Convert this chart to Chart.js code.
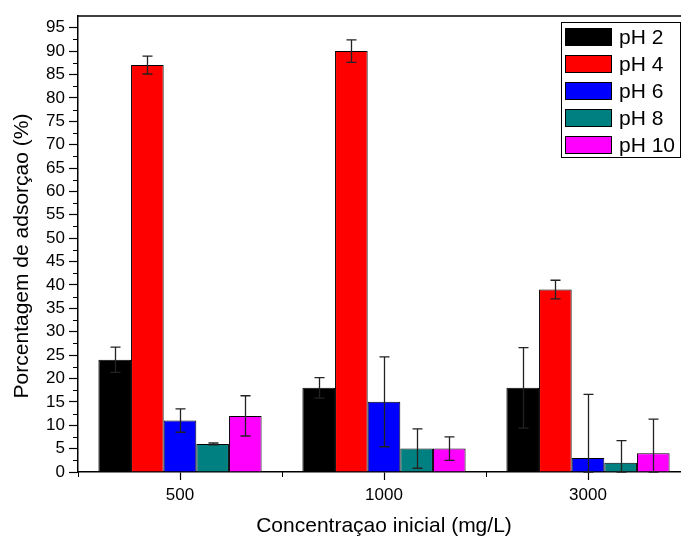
<!DOCTYPE html>
<html>
<head>
<meta charset="utf-8">
<script src="https://cdn.jsdelivr.net/npm/chart.js@4"></script>
<style>
  html, body { margin: 0; padding: 0; background: #fff; overflow: hidden; }
  canvas { display: block; }
</style>
</head>
<body>
<canvas id="chart-ads" width="700" height="539"></canvas>
<script>
const FONT = '"Liberation Sans", Arial, sans-serif';

const categories = ['500', '1000', '3000'];
const seriesLabels = ['pH 2', 'pH 4', 'pH 6', 'pH 8', 'pH 10'];
const seriesColors = ['#000000', '#ff0000', '#0000ff', '#008080', '#ff00ff'];

const ph2 = [24, 18, 18];
const ph4 = [87, 90, 39];
const ph6 = [11, 15, 3];
const ph8 = [6, 5, 2];
const ph10 = [12, 5, 4];

const ph2Err = [2.7, 2.2, 8.6];
const ph4Err = [1.9, 2.4, 2.0];
const ph6Err = [2.5, 9.6, 13.6];
const ph8Err = [0.2, 4.2, 4.7];
const ph10Err = [4.3, 2.5, 7.3];

const yTicks = [0, 5, 10, 15, 20, 25, 30, 35, 40, 45, 50, 55, 60, 65, 70, 75, 80, 85, 90, 95];

const values = [ph2, ph4, ph6, ph8, ph10];
const errors = [ph2Err, ph4Err, ph6Err, ph8Err, ph10Err];

// error bars, frame, minor ticks, axis titles and the boxed legend
const extras = {
    id: 'extras',
    afterDatasetsDraw(chart) {
        const c = chart.ctx;
        const y = chart.scales.y;
        c.save();
        c.strokeStyle = '#222';
        c.lineWidth = 1.3;
        chart.data.datasets.forEach((ds, i) => {
            const meta = chart.getDatasetMeta(i);
            meta.data.forEach((bar, j) => {
                const v = ds.data[j], e = errors[i][j];
                const yt = y.getPixelForValue(v + e);
                const yb = y.getPixelForValue(Math.max(0, v - e));
                const x = Math.round(bar.x) + 0.5;
                c.beginPath();
                c.moveTo(x, yt); c.lineTo(x, yb);
                c.moveTo(x - 5, yt); c.lineTo(x + 5, yt);
                c.moveTo(x - 5, yb); c.lineTo(x + 5, yb);
                c.stroke();
            });
        });
        c.restore();
    },
    afterDraw(chart) {
        const c = chart.ctx;
        const a = chart.chartArea;
        const x = chart.scales.x, y = chart.scales.y;
        c.save();
        c.strokeStyle = '#000';
        c.lineWidth = 1.5;
        c.beginPath();
        c.moveTo(a.left, a.top); c.lineTo(chart.width, a.top);
        c.stroke();

        c.lineWidth = 1;
        c.beginPath();
        for (let v = 2.5; v < 97; v += 5) {
            const py = Math.round(y.getPixelForValue(v)) + 0.5;
            c.moveTo(a.left - 5, py); c.lineTo(a.left, py);
        }
        const step = x.getPixelForValue(1) - x.getPixelForValue(0);
        for (let i = 0; i <= categories.length; i++) {
            const px = Math.round(x.getPixelForValue(i) - step / 2) + 0.5;
            c.moveTo(px, a.bottom); c.lineTo(px, a.bottom + 5);
        }
        c.stroke();

        c.fillStyle = '#000';
        c.font = '21px ' + FONT;
        c.textAlign = 'center';
        c.textBaseline = 'middle';
        c.fillText('Concentraçao inicial (mg/L)', (a.left + a.right) / 2, 526);
        c.translate(22, 256);
        c.rotate(-Math.PI / 2);
        c.fillText('Porcentagem de adsorçao (%)', 0, 0);
        c.restore();

        c.save();
        c.fillStyle = '#fff';
        c.fillRect(561, 22, 119, 135);
        c.strokeStyle = '#000';
        c.lineWidth = 1;
        c.strokeRect(561.5, 22.5, 119, 135);
        c.font = '21px ' + FONT;
        c.textBaseline = 'middle';
        c.textAlign = 'left';
        seriesLabels.forEach((lab, i) => {
            const cy = 37 + i * 27;
            c.fillStyle = seriesColors[i];
            c.fillRect(565, cy - 9, 47, 18);
            c.strokeStyle = '#000';
            c.strokeRect(565.5, cy - 8.5, 46, 17);
            c.fillStyle = '#000';
            c.fillText(lab, 619, cy + 1);
        });
        c.restore();
    }
};

document.addEventListener('DOMContentLoaded', () => {
    const ctx = document.getElementById('chart-ads');

    new Chart(ctx, {
        type: 'bar',
        data: {
            labels: categories,
            datasets: seriesLabels.map((lab, i) => ({
                label: lab,
                data: values[i],
                backgroundColor: seriesColors[i],
                borderColor: '#000',
                borderWidth: 1,
                categoryPercentage: 0.8,
                barPercentage: 1.0
            }))
        },
        options: {
            responsive: false,
            animation: false,
            devicePixelRatio: 1,
            layout: { padding: { top: 16, right: 10, left: 0, bottom: 0 } },
            plugins: { legend: { display: false }, tooltip: { enabled: false } },
            scales: {
                x: {
                    offset: true,
                    grid: { offset: false, drawOnChartArea: false, tickLength: 8, tickColor: '#000', tickWidth: 1.2 },
                    border: { color: '#000', width: 1.5 },
                    ticks: { color: '#000', font: { family: FONT, size: 17 }, padding: 5, maxRotation: 0 },
                    afterFit: s => { s.height = 67; }
                },
                y: {
                    min: 0,
                    max: 97.5,
                    afterBuildTicks: s => { s.ticks = yTicks.map(v => ({ value: v })); },
                    grid: { drawOnChartArea: false, tickLength: 9, tickColor: '#000', tickWidth: 1.2 },
                    border: { color: '#000', width: 1.5 },
                    ticks: { color: '#000', font: { family: FONT, size: 17 }, padding: 4 },
                    afterFit: s => { s.width = 78; }
                }
            }
        },
        plugins: [extras]
    });
});
</script>
</body>
</html>
